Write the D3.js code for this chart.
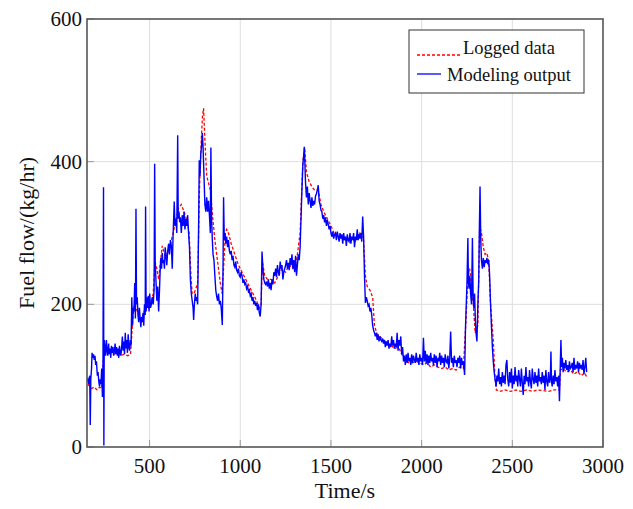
<!DOCTYPE html>
<html>
<head>
<meta charset="utf-8">
<script src="https://cdn.jsdelivr.net/npm/d3@7"></script>
<style>
  body { margin: 0; background: #fff; }
  text { font-family: "Liberation Serif", "Times New Roman", serif; fill: #111; }
</style>
</head>
<body>
<div id="chart"></div>
<script>
/* DATA: [time (s), fuel flow (kg/hr)] */
var xTicks = [500, 1000, 1500, 2000, 2500, 3000];
var yTicks = [0, 200, 400, 600];
var seriesNames = ["Logged data", "Modeling output"];

var loggedData = [
  [160,88],[170,85],[180,82],[195,84],[210,80],[225,84],[235,82],[245,120],[252,143],[265,138],
  [280,135],[300,130],[320,132],[340,128],[360,130],[380,128],[395,130],[405,170],[415,200],[425,195],
  [440,185],[455,178],[470,190],[480,200],[495,195],[510,205],[520,215],[530,260],[540,250],[550,235],
  [560,260],[570,282],[585,268],[600,272],[615,285],[630,300],[645,318],[660,335],[675,340],[690,330],
  [705,318],[718,300],[728,240],[735,215],[745,215],[755,222],[765,230],[775,360],[785,430],[792,465],
  [798,475],[805,430],[815,380],[825,370],[835,360],[845,330],[860,290],[875,260],[890,230],[900,215],
  [910,260],[918,300],[925,305],[935,300],[950,285],[970,270],[990,255],[1010,245],[1030,235],[1050,225],
  [1070,215],[1090,205],[1105,195],[1115,200],[1122,260],[1135,240],[1150,235],[1170,235],[1190,230],[1210,240],
  [1230,250],[1250,245],[1270,255],[1290,250],[1310,260],[1330,300],[1345,400],[1355,420],[1365,385],[1380,372],
  [1395,365],[1410,360],[1430,360],[1445,340],[1460,330],[1480,320],[1500,310],[1520,298],[1540,296],[1560,294],
  [1580,290],[1600,292],[1620,290],[1640,288],[1660,300],[1670,295],[1680,290],[1690,240],[1700,225],[1715,220],
  [1730,210],[1740,170],[1755,158],[1770,155],[1790,150],[1810,145],[1830,143],[1850,138],[1870,140],[1880,136],
  [1890,130],[1910,122],[1930,118],[1950,118],[1970,120],[1990,118],[2010,115],[2030,118],[2050,112],[2070,115],
  [2090,112],[2110,110],[2130,112],[2150,108],[2170,110],[2190,108],[2210,112],[2230,110],[2245,180],[2255,240],
  [2265,250],[2275,225],[2285,200],[2295,160],[2310,170],[2320,310],[2330,300],[2340,280],[2350,270],[2360,272],
  [2370,260],[2380,200],[2395,150],[2405,95],[2412,80],[2430,78],[2460,80],[2490,78],[2520,80],[2550,78],
  [2580,80],[2610,78],[2640,80],[2670,79],[2700,78],[2730,80],[2760,80],[2765,108],[2780,110],[2800,105],
  [2820,108],[2840,102],[2860,106],[2880,100],[2900,104],[2910,98]
];

var modelData = [
  [155,92],[160,95],[165,88],[170,100],[173,31],[176,95],[180,110],[183,132],[187,125],[191,130],
  [195,122],[199,128],[203,115],[207,120],[212,100],[216,105],[220,92],[224,85],[228,95],[232,88],
  [236,110],[240,70],[243,100],[246,364],[248,2],[250,150],[254,140],[258,128],[262,150],[266,135],
  [270,128],[274,145],[278,130],[282,138],[286,125],[290,142],[294,132],[298,140],[302,128],[306,135],
  [310,145],[314,130],[318,140],[322,128],[326,138],[330,125],[334,142],[338,132],[342,128],[346,140],
  [350,155],[354,135],[358,148],[362,130],[366,160],[370,138],[374,150],[378,132],[382,158],[386,140],
  [390,135],[394,150],[398,142],[402,210],[406,170],[410,195],[414,190],[418,230],[422,180],[425,334],
  [428,200],[432,210],[436,185],[440,175],[444,195],[448,180],[452,168],[456,182],[460,175],[464,188],
  [468,170],[472,200],[476,185],[478,337],[481,190],[485,210],[489,195],[493,212],[497,190],[501,215],
  [505,195],[510,200],[515,210],[520,200],[525,220],[528,397],[531,260],[535,235],[540,205],[545,225],
  [550,190],[555,222],[558,245],[562,265],[566,250],[570,272],[574,258],[578,262],[582,250],[586,280],
  [590,270],[595,255],[600,275],[605,285],[610,270],[615,290],[620,282],[625,250],[630,300],[636,344],
  [640,310],[645,320],[650,300],[655,437],[658,320],[662,330],[666,315],[670,322],[675,300],[680,325],
  [685,310],[690,330],[695,305],[700,320],[705,310],[710,325],[715,300],[720,280],[725,235],[730,215],
  [735,205],[740,195],[743,178],[747,200],[752,215],[756,205],[760,210],[765,200],[770,300],[774,402],
  [778,380],[782,410],[786,420],[791,440],[795,420],[800,380],[805,340],[810,330],[815,350],[820,330],
  [825,345],[830,325],[835,300],[838,420],[842,320],[846,290],[850,270],[855,262],[860,240],[865,220],
  [870,211],[875,205],[880,215],[885,200],[890,205],[895,195],[901,171],[905,250],[908,350],[912,290],
  [916,300],[920,285],[925,295],[930,280],[935,290],[940,275],[945,270],[950,275],[955,262],[960,268],
  [965,255],[970,252],[975,260],[980,248],[985,245],[990,250],[995,240],[1000,238],[1005,245],[1010,240],
  [1015,230],[1020,235],[1025,228],[1030,230],[1035,222],[1040,225],[1045,218],[1050,220],[1055,212],[1060,215],
  [1065,205],[1070,210],[1075,200],[1080,205],[1085,198],[1090,202],[1095,192],[1100,200],[1105,188],[1110,183],
  [1115,200],[1120,274],[1125,250],[1130,235],[1135,230],[1140,228],[1145,232],[1150,225],[1155,235],[1160,222],
  [1165,230],[1170,220],[1175,235],[1180,228],[1185,245],[1190,240],[1195,250],[1200,238],[1205,255],[1210,245],
  [1215,240],[1220,260],[1225,250],[1230,255],[1235,235],[1240,245],[1250,255],[1255,262],[1260,250],[1265,258],
  [1270,248],[1275,265],[1280,255],[1285,270],[1290,250],[1295,262],[1300,245],[1305,268],[1310,240],[1315,255],
  [1320,270],[1325,262],[1330,280],[1335,320],[1340,360],[1345,395],[1350,410],[1353,421],[1356,400],[1360,370],
  [1365,350],[1370,365],[1375,340],[1380,356],[1385,345],[1390,335],[1395,350],[1400,338],[1405,345],[1410,340],
  [1415,352],[1420,355],[1425,360],[1430,367],[1435,345],[1440,340],[1445,332],[1450,330],[1455,320],[1460,325],
  [1465,315],[1470,322],[1475,310],[1480,318],[1485,312],[1490,305],[1495,310],[1500,300],[1505,295],[1510,302],
  [1515,292],[1520,298],[1525,300],[1530,290],[1535,302],[1540,295],[1545,288],[1550,300],[1555,292],[1560,298],
  [1565,285],[1570,300],[1575,290],[1580,295],[1585,282],[1590,298],[1595,290],[1600,288],[1605,300],[1610,285],
  [1615,295],[1620,290],[1625,300],[1630,280],[1635,295],[1640,290],[1645,305],[1650,290],[1655,298],[1660,292],
  [1665,300],[1670,288],[1675,323],[1680,295],[1685,240],[1690,202],[1695,210],[1700,205],[1705,198],[1710,200],
  [1715,190],[1720,195],[1725,185],[1730,170],[1735,164],[1740,160],[1745,155],[1750,160],[1755,150],[1760,158],
  [1765,148],[1770,155],[1775,150],[1780,148],[1785,152],[1790,145],[1795,150],[1800,140],[1805,148],[1810,142],
  [1815,150],[1820,138],[1825,145],[1830,140],[1835,155],[1840,142],[1845,150],[1850,138],[1855,145],[1860,140],
  [1865,160],[1870,135],[1875,150],[1880,142],[1885,155],[1890,130],[1895,140],[1900,120],[1905,128],[1910,115],
  [1915,130],[1920,118],[1925,132],[1930,120],[1935,125],[1940,115],[1945,130],[1950,118],[1955,128],[1960,122],
  [1965,118],[1970,132],[1975,120],[1980,125],[1985,115],[1990,130],[1995,120],[2000,125],[2005,115],[2010,153],
  [2015,120],[2020,135],[2025,118],[2030,130],[2035,115],[2040,128],[2045,118],[2050,132],[2055,120],[2060,125],
  [2065,115],[2070,130],[2075,118],[2080,128],[2085,112],[2090,125],[2095,120],[2100,132],[2105,115],[2110,128],
  [2115,118],[2120,125],[2125,112],[2130,130],[2135,120],[2140,118],[2145,128],[2150,110],[2155,125],[2160,162],
  [2165,118],[2170,125],[2175,112],[2180,128],[2185,118],[2190,122],[2195,112],[2200,125],[2205,118],[2210,128],
  [2215,110],[2220,125],[2225,115],[2230,120],[2237,101],[2242,169],[2250,230],[2255,293],[2258,230],[2262,222],
  [2266,240],[2270,215],[2275,200],[2280,293],[2284,210],[2288,195],[2292,215],[2296,180],[2300,160],[2305,148],
  [2310,200],[2315,234],[2318,300],[2322,365],[2326,290],[2330,262],[2335,250],[2340,265],[2345,252],[2350,262],
  [2355,258],[2360,265],[2365,256],[2370,262],[2375,240],[2380,200],[2385,169],[2390,140],[2395,120],[2400,105],
  [2405,95],[2411,85],[2415,100],[2420,92],[2425,110],[2430,88],[2435,98],[2440,85],[2445,105],[2450,90],
  [2455,100],[2460,88],[2465,115],[2470,122],[2475,95],[2480,85],[2485,105],[2490,90],[2495,110],[2500,82],
  [2505,100],[2510,88],[2515,112],[2520,92],[2525,100],[2530,85],[2535,108],[2540,95],[2545,85],[2550,110],
  [2555,90],[2560,73],[2565,100],[2570,88],[2575,112],[2580,92],[2585,98],[2590,85],[2595,108],[2600,92],
  [2605,82],[2610,110],[2615,95],[2620,88],[2625,105],[2630,90],[2635,100],[2640,85],[2645,110],[2650,92],
  [2655,98],[2660,88],[2665,105],[2670,90],[2675,100],[2680,80],[2685,108],[2690,92],[2695,85],[2700,105],
  [2705,90],[2710,98],[2713,134],[2716,92],[2720,85],[2725,100],[2730,88],[2735,108],[2740,92],[2745,98],
  [2750,85],[2755,100],[2760,64],[2765,120],[2768,150],[2772,112],[2776,125],[2780,105],[2785,118],[2790,110],
  [2795,122],[2800,108],[2805,115],[2810,105],[2815,120],[2820,110],[2825,112],[2830,118],[2835,105],[2840,125],
  [2845,108],[2850,115],[2855,110],[2860,120],[2865,105],[2870,118],[2875,110],[2880,115],[2885,108],[2890,122],
  [2895,102],[2900,112],[2905,125],[2910,105]
];

/* chart size and margins */
var W = 633, H = 509;
var margin = {top: 19, right: 30, bottom: 62, left: 87};
var width = W - margin.left - margin.right,
    height = H - margin.top - margin.bottom;

var x = d3.scaleLinear().domain([155, 3000]).range([0, width]);
var y = d3.scaleLinear().domain([0, 600]).range([height, 0]);

var svg = d3.select("#chart").append("svg")
  .attr("width", W)
  .attr("height", H);

var g = svg.append("g")
  .attr("transform", "translate(" + margin.left + "," + margin.top + ")");

g.append("clipPath").attr("id", "clip")
  .append("rect").attr("width", width).attr("height", height);

/* grid lines */
g.append("g")
  .selectAll("line")
  .data(xTicks.filter(function(d) { return d < 3000; }))
  .enter().append("line")
  .attr("x1", function(d) { return x(d); }).attr("x2", function(d) { return x(d); })
  .attr("y1", 0).attr("y2", height)
  .style("stroke", "#dedede").style("stroke-width", 1);

g.append("g")
  .selectAll("line")
  .data(yTicks.filter(function(d) { return d > 0 && d < 600; }))
  .enter().append("line")
  .attr("x1", 0).attr("x2", width)
  .attr("y1", function(d) { return y(d); }).attr("y2", function(d) { return y(d); })
  .style("stroke", "#dedede").style("stroke-width", 1);

/* small inward ticks */
g.append("g")
  .selectAll("line")
  .data(xTicks)
  .enter().append("line")
  .attr("x1", function(d) { return x(d); }).attr("x2", function(d) { return x(d); })
  .attr("y1", height).attr("y2", height - 7)
  .style("stroke", "#999").style("stroke-width", 1);

g.append("g")
  .selectAll("line")
  .data(yTicks)
  .enter().append("line")
  .attr("x1", 0).attr("x2", 7)
  .attr("y1", function(d) { return y(d); }).attr("y2", function(d) { return y(d); })
  .style("stroke", "#999").style("stroke-width", 1);

/* lines */
var line = d3.line()
  .x(function(d) { return x(d[0]); })
  .y(function(d) { return y(d[1]); });

var plot = g.append("g").attr("clip-path", "url(#clip)");

plot.append("path")
  .datum(loggedData)
  .attr("d", line)
  .style("fill", "none")
  .style("stroke", "#ff0000")
  .style("stroke-width", 1.3)
  .style("stroke-dasharray", "3,2");

plot.append("path")
  .datum(modelData)
  .attr("d", line)
  .style("fill", "none")
  .style("stroke", "#0000ff")
  .style("stroke-width", 1.4);

/* frame */
g.append("rect")
  .attr("width", width).attr("height", height)
  .style("fill", "none").style("stroke", "#555").style("stroke-width", 1.6);

/* tick labels */
g.append("g")
  .selectAll("text")
  .data(xTicks)
  .enter().append("text")
  .attr("x", function(d) { return x(d); })
  .attr("y", height + 26)
  .style("text-anchor", "middle")
  .style("font-size", "21px")
  .text(function(d) { return d; });

g.append("g")
  .selectAll("text")
  .data(yTicks)
  .enter().append("text")
  .attr("x", -5)
  .attr("y", function(d) { return y(d) + 7; })
  .style("text-anchor", "end")
  .style("font-size", "21px")
  .text(function(d) { return d; });

/* axis titles */
svg.append("text")
  .attr("x", margin.left + width / 2)
  .attr("y", 498)
  .style("text-anchor", "middle")
  .style("font-size", "22px")
  .text("Time/s");

svg.append("text")
  .attr("transform", "translate(34,233) rotate(-90)")
  .style("text-anchor", "middle")
  .style("font-size", "22px")
  .text("Fuel flow/(kg/hr)");

/* legend */
var lg = svg.append("g");
lg.append("rect")
  .attr("x", 409).attr("y", 30).attr("width", 175).attr("height", 63)
  .style("fill", "#fff").style("stroke", "#333").style("stroke-width", 1);
lg.append("line")
  .attr("x1", 417).attr("x2", 461).attr("y1", 55).attr("y2", 55)
  .style("stroke", "#ff0000").style("stroke-width", 1.3).style("stroke-dasharray", "3,2");
lg.append("line")
  .attr("x1", 417).attr("x2", 441).attr("y1", 74).attr("y2", 74)
  .style("stroke", "#0000ff").style("stroke-width", 1.3);
lg.append("text")
  .attr("x", 463).attr("y", 54)
  .style("font-size", "18.5px")
  .text(seriesNames[0]);
lg.append("text")
  .attr("x", 447).attr("y", 81)
  .style("font-size", "18.5px")
  .text(seriesNames[1]);
</script>
</body>
</html>
